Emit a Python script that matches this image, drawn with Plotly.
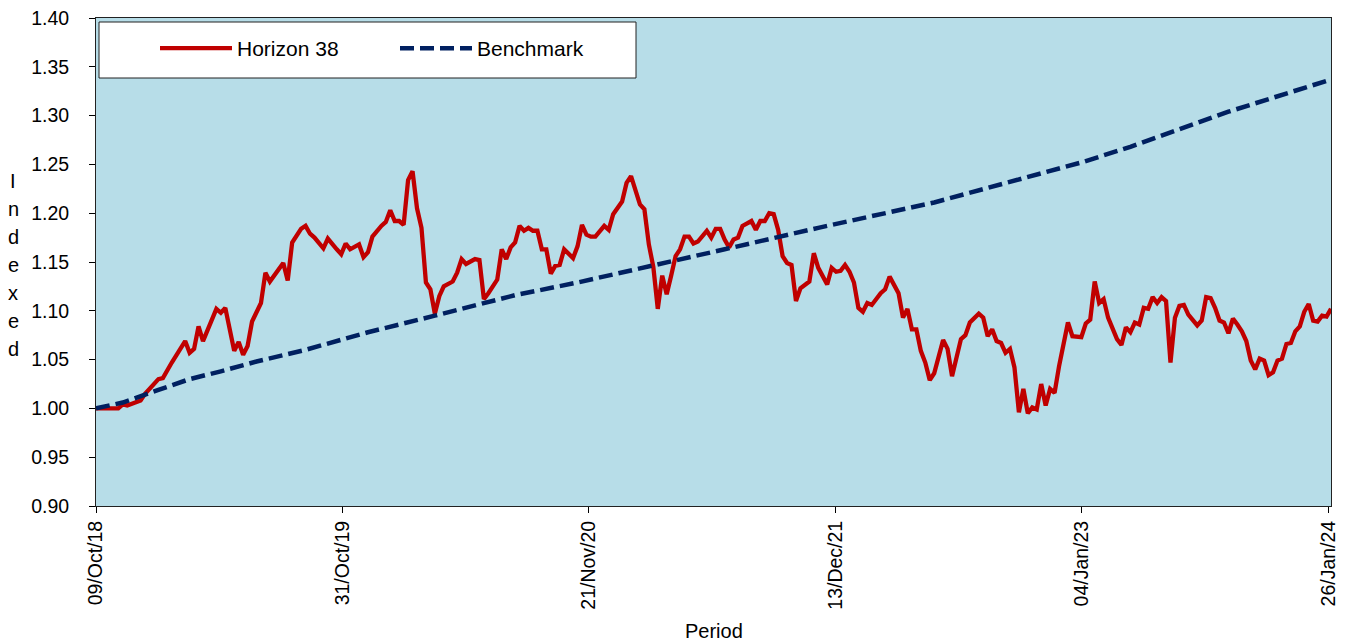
import plotly.graph_objects as go
import pandas as pd
import numpy as np

START = "2018-10-09"

# Horizon 38: week offsets from start and index values
h_weeks = [0, 5, 6, 7, 10, 11, 14, 15, 17, 20, 21, 22, 23, 24, 27, 28, 29, 31, 32, 33,
           34, 35, 37, 38, 39, 42, 43, 44, 46, 47, 48, 49, 51, 52, 54, 55, 56, 57, 59, 60,
           61, 62, 64, 65, 66, 67, 68, 69, 70, 71, 72, 73, 74, 75, 76, 77, 78, 80, 81, 82,
           83, 85, 86, 87, 88, 89, 90, 91, 92, 93, 94, 95, 96, 97, 98, 99, 100, 101, 102, 103,
           104, 105, 107, 108, 109, 110, 111, 112, 114, 115, 116, 118, 119, 120, 121, 122, 123, 124, 125, 126,
           127, 128, 129, 130, 131, 132, 133, 134, 135, 137, 138, 139, 140, 141, 142, 143, 144, 145, 147, 148,
           149, 150, 151, 152, 153, 154, 155, 156, 157, 158, 160, 161, 162, 164, 165, 166, 167, 168, 169, 170,
           171, 172, 173, 174, 176, 177, 178, 180, 181, 182, 183, 184, 185, 186, 187, 188, 190, 191, 192, 194,
           195, 196, 198, 199, 200, 201, 202, 203, 204, 205, 206, 207, 208, 209, 210, 211, 212, 213, 214, 215,
           216, 218, 219, 221, 222, 223, 224, 225, 226, 227, 229, 230, 231, 232, 233, 234, 235, 236, 237, 238,
           239, 240, 241, 242, 243, 244, 245, 247, 248, 249, 250, 251, 252, 253, 254, 255, 256, 257, 258, 259,
           260, 261, 262, 263, 264, 265, 266, 267, 268, 269, 270, 271, 272, 273, 274, 275, 276, 277]
h_values = [1.000, 1.000, 1.004, 1.003, 1.008, 1.015, 1.030, 1.031, 1.047, 1.069, 1.057, 1.061, 1.084, 1.069, 1.102, 1.098, 1.103, 1.059, 1.068, 1.055,
            1.064, 1.089, 1.108, 1.139, 1.130, 1.149, 1.131, 1.170, 1.184, 1.187, 1.179, 1.175, 1.164, 1.174, 1.163, 1.158, 1.169, 1.163, 1.168, 1.155,
            1.160, 1.176, 1.187, 1.191, 1.203, 1.192, 1.192, 1.188, 1.234, 1.243, 1.205, 1.185, 1.129, 1.122, 1.097, 1.115, 1.125, 1.130, 1.139, 1.153,
            1.148, 1.153, 1.152, 1.112, 1.118, 1.125, 1.132, 1.163, 1.153, 1.165, 1.170, 1.187, 1.182, 1.185, 1.182, 1.182, 1.163, 1.163, 1.138, 1.146,
            1.147, 1.163, 1.154, 1.166, 1.188, 1.178, 1.176, 1.176, 1.187, 1.183, 1.199, 1.212, 1.231, 1.238, 1.224, 1.209, 1.204, 1.168, 1.145, 1.102,
            1.136, 1.117, 1.136, 1.156, 1.163, 1.176, 1.176, 1.169, 1.171, 1.182, 1.175, 1.184, 1.184, 1.173, 1.165, 1.173, 1.175, 1.187, 1.192, 1.183,
            1.192, 1.192, 1.200, 1.199, 1.183, 1.156, 1.149, 1.147, 1.110, 1.123, 1.130, 1.159, 1.144, 1.127, 1.144, 1.140, 1.141, 1.147, 1.140, 1.129,
            1.103, 1.099, 1.108, 1.106, 1.118, 1.122, 1.135, 1.118, 1.093, 1.102, 1.081, 1.081, 1.059, 1.047, 1.029, 1.036, 1.070, 1.061, 1.033, 1.071,
            1.075, 1.088, 1.097, 1.093, 1.074, 1.081, 1.069, 1.067, 1.057, 1.061, 1.042, 0.996, 1.020, 0.995, 1.001, 0.999, 1.025, 1.003, 1.020, 1.016,
            1.043, 1.088, 1.074, 1.073, 1.087, 1.091, 1.130, 1.108, 1.112, 1.093, 1.071, 1.065, 1.083, 1.078, 1.088, 1.086, 1.103, 1.102, 1.114, 1.108,
            1.114, 1.110, 1.047, 1.093, 1.105, 1.106, 1.096, 1.085, 1.090, 1.114, 1.113, 1.103, 1.090, 1.088, 1.077, 1.092, 1.086, 1.079, 1.069, 1.049,
            1.040, 1.051, 1.049, 1.034, 1.037, 1.049, 1.051, 1.066, 1.067, 1.079, 1.084, 1.099, 1.107, 1.090, 1.089, 1.095, 1.094, 1.102]

# Benchmark: week offsets and values
b_weeks = [0, 6, 14, 21, 28, 36, 47, 61, 76, 94, 108, 123, 141, 162, 188, 221, 232, 254, 277]
b_values = [1.000, 1.006, 1.019, 1.030, 1.038, 1.048, 1.060, 1.078, 1.095, 1.116, 1.129, 1.144,
            1.163, 1.185, 1.211, 1.252, 1.268, 1.304, 1.337]

# X tick labels (Excel date axis, major unit 387 days)
tick_dates = ["2018-10-09", "2019-10-31", "2020-11-21", "2021-12-13", "2023-01-04", "2024-01-26"]
tick_labels = ["09/Oct/18", "31/Oct/19", "21/Nov/20", "13/Dec/21", "04/Jan/23", "26/Jan/24"]

y_ticks = [0.90, 0.95, 1.00, 1.05, 1.10, 1.15, 1.20, 1.25, 1.30, 1.35, 1.40]

start = pd.Timestamp(START)
h_dates = start + pd.to_timedelta(np.array(h_weeks) * 7, unit="D")
b_dates = start + pd.to_timedelta(np.array(b_weeks) * 7, unit="D")
x_end = start + pd.Timedelta(days=277 * 7)

FONT = "Arial, Liberation Sans, sans-serif"
# page body has an 8px default margin; size the figure so the plot lands where the reference has it
OFF = 8
SCR_W, SCR_H = 1346, 643
PL, PR, PT, PB = 96, 1331, 18, 506          # plot area in screen pixels
W, H = SCR_W - OFF, SCR_H - OFF
L, T = PL - OFF, PT - OFF
R, B = SCR_W - PR, SCR_H - PB
PW, PH = PR - PL, PB - PT

fig = go.Figure()
fig.add_trace(go.Scatter(x=h_dates, y=h_values, mode="lines", name="Horizon 38",
                         line=dict(color="#C00000", width=4.3)))
fig.add_trace(go.Scatter(x=b_dates, y=b_values, mode="lines", name="Benchmark",
                         line=dict(color="#002060", width=4.5, dash="14px,6px")))

def px_x(p):
    return (p - PL) / PW

def px_y(p):
    return (PB - p) / PH

# legend box
fig.add_shape(type="rect", xref="paper", yref="paper",
              x0=px_x(99), x1=px_x(636), y0=px_y(78), y1=px_y(22),
              line=dict(color="#222222", width=1), fillcolor="white", layer="above")

# vertical y-axis title letters
letters = list("Indexed")
base = 181
for i, ch in enumerate(letters):
    fig.add_annotation(text=ch, xref="paper", yref="paper", x=px_x(13), y=px_y(base + 28 * i),
                       showarrow=False, xanchor="center", yanchor="middle",
                       font=dict(family=FONT, size=20, color="black"))

# x-axis title
fig.add_annotation(text="Period", xref="paper", yref="paper", x=0.5, y=px_y(631),
                   showarrow=False, xanchor="center", yanchor="middle",
                   font=dict(family=FONT, size=20, color="black"))

fig.update_layout(
    width=W, height=H,
    margin=dict(l=L, r=R, t=T, b=B, autoexpand=False),
    paper_bgcolor="white",
    plot_bgcolor="#B7DDE8",
    font=dict(family=FONT, size=20, color="black"),
    showlegend=True,
    legend=dict(orientation="h", x=px_x(155), y=px_y(28), xanchor="left", yanchor="top",
                bgcolor="rgba(0,0,0,0)", borderwidth=0, itemwidth=72, entrywidth=153,
                font=dict(family=FONT, size=21, color="black")),
    xaxis=dict(range=[start, x_end], tickvals=pd.to_datetime(tick_dates), ticktext=tick_labels,
               tickangle=-90, ticks="outside", ticklen=6, tickcolor="black",
               showline=True, linecolor="#222222", linewidth=1, mirror=True,
               showgrid=False, zeroline=False, automargin=False, ticklabeloverflow="allow",
               tickfont=dict(family=FONT, size=19.5, color="black")),
    yaxis=dict(range=[0.90, 1.40], tickvals=y_ticks, tickformat=".2f",
               ticks="outside", ticklen=6, tickcolor="black", ticklabelstandoff=16,
               showline=True, linecolor="#222222", linewidth=1, mirror=True,
               showgrid=False, zeroline=False, automargin=False, ticklabeloverflow="allow",
               tickfont=dict(family=FONT, size=19.5, color="black")),
)

fig.write_html("out.html")
